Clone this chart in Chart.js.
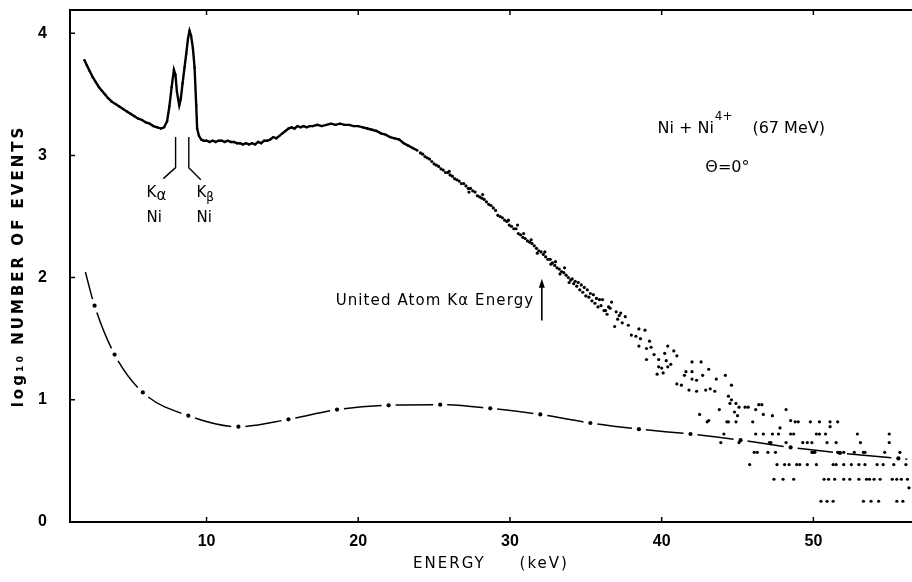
<!DOCTYPE html>
<html><head><meta charset="utf-8">
<script src="https://cdn.jsdelivr.net/npm/chart.js@4.4.1/dist/chart.umd.min.js"></script>
<style>html,body{margin:0;padding:0;background:#fff;}#wrap{width:912px;height:582px;}</style>
</head><body><div id="wrap"><canvas id="c" width="912" height="582"></canvas></div>
<script>
// ---- tick labels ----
const xTicks = [10, 20, 30, 40, 50];
const yTicks = [0, 1, 2, 3, 4];

// ---- measured spectrum, dense part (keV, log10 counts) ----
const denseE = [1.95,2.1,2.3,2.5,2.7,2.9,3.1,3.3,3.5,3.75,
  4.0,4.25,4.5,4.75,5.0,5.25,5.5,5.75,6.0,6.25,
  6.5,6.75,7.0,7.2,7.4,7.55,7.7,7.85,7.95,8.05,
  8.2,8.3,8.42,8.55,8.66,8.78,8.88,8.98,9.1,9.21,
  9.32,9.38,9.5,9.65,9.8,10.0,10.2,10.4,10.6,10.8,
  11.0,11.2,11.4,11.6,11.8,12.0,12.2,12.4,12.6,12.8,
  13.0,13.2,13.4,13.6,13.8,14.0,14.2,14.4,14.6,14.8,
  15.0,15.2,15.4,15.6,15.8,16.0,16.2,16.4,16.6,16.8,
  17.0,17.3,17.6,17.9,18.2,18.5,18.8,19.1,19.4,19.7,
  20.0,20.3,20.6,20.9,21.2,21.5,21.8,22.1,22.4,22.7,
  23.0,23.3,23.6,23.9];
const denseY = [3.78,3.74,3.69,3.64,3.60,3.56,3.53,3.50,3.47,3.44,
  3.42,3.40,3.38,3.36,3.34,3.32,3.30,3.29,3.27,3.26,
  3.24,3.23,3.22,3.23,3.28,3.40,3.56,3.70,3.66,3.52,
  3.41,3.46,3.59,3.72,3.83,3.96,4.02,3.98,3.88,3.72,
  3.41,3.22,3.16,3.13,3.12,3.12,3.11,3.12,3.11,3.12,
  3.12,3.11,3.12,3.11,3.11,3.10,3.10,3.09,3.10,3.09,
  3.10,3.09,3.11,3.10,3.12,3.12,3.13,3.15,3.14,3.16,
  3.18,3.20,3.22,3.23,3.22,3.24,3.23,3.24,3.23,3.24,
  3.24,3.25,3.24,3.25,3.26,3.25,3.26,3.25,3.25,3.24,
  3.24,3.23,3.22,3.21,3.20,3.18,3.17,3.15,3.14,3.13,
  3.10,3.08,3.06,3.04];

// ---- measured spectrum, scattered tail ----
const tailE = [24.1,24.25,24.4,24.55,24.7,24.85,25.0,25.15,25.3,25.45,
  25.6,25.75,25.9,26.05,26.2,26.35,26.5,26.65,26.8,26.95,
  27.1,27.25,27.4,27.55,27.7,27.85,28.0,28.15,28.3,28.45,
  28.6,28.75,28.9,29.05,26.0,27.3,28.2,29.2,
  29.35,29.5,29.65,29.8,29.95,30.1,30.25,30.4,30.55,30.7,
  30.85,31.0,31.15,31.3,31.45,31.6,31.75,31.9,32.05,32.2,
  32.35,32.5,32.65,32.8,32.95,33.1,33.25,33.4,33.55,33.7,
  33.85,34.0,29.9,30.5,30.9,31.4,31.8,32.3,32.7,33.0,
  33.3,33.6,33.9,
  34.1,34.2,34.3,34.4,34.5,34.6,34.7,34.8,34.9,35.0,
  35.1,35.2,35.3,35.4,35.5,35.6,35.7,35.8,35.9,36.0,
  36.1,36.2,36.3,36.4,36.5,36.6,36.7,36.9,37.0,37.1,
  37.3,37.4,37.6,37.8,38.0,38.3,38.5,38.6,38.9,37.2,
  38.5,39.2,39.3,39.0,40.4,39.5,40.2,40.8,41.0,39.0,
  39.8,40.3,40.6,39.8,40.0,40.4,42.0,42.6,41.6,42.0,
  43.1,39.7,40.1,41.5,42.0,42.3,42.7,41.0,41.3,41.8,
  42.3,42.9,43.2,43.5,43.6,44.2,44.6,44.4,44.6,44.9,
  42.5,43.1,43.8,44.5,44.8,45.1,45.5,45.7,46.2,46.4,
  46.6,46.7,47.3,48.2,48.5,51.1,51.1,45.0,46.0,47.8,
  43.0,44.3,44.4,44.9,48.8,49.0,49.8,50.4,51.6,
  44.1,46.2,46.7,47.3,47.7,48.5,48.7,50.2,50.4,50.8,52.9,55.0,
  43.9,45.1,47.1,47.2,48.2,49.3,49.6,49.9,50.9,51.5,53.1,55.0,
  46.1,46.3,47.0,47.5,49.9,50.0,50.1,51.6,52.0,52.7,53.3,53.4,54.7,55.7,
  45.8,47.6,48.1,48.4,48.9,49.1,49.6,50.2,51.3,51.5,52.0,52.5,53.0,53.4,54.2,54.6,55.3,56.1,
  47.4,48.0,48.7,50.7,51.0,51.4,52.0,52.4,53.0,53.5,53.7,54.0,54.4,55.2,55.5,55.8,56.2,
  50.5,50.9,51.3,53.3,53.8,54.3,55.5,55.9,
  56.3];
const tailY = [3.02,3.01,2.99,2.98,2.97,2.95,2.93,2.92,2.91,2.89,
  2.88,2.86,2.86,2.84,2.83,2.81,2.80,2.79,2.77,2.77,
  2.75,2.73,2.73,2.71,2.70,2.67,2.66,2.65,2.64,2.62,
  2.60,2.59,2.57,2.55,2.87,2.70,2.68,2.51,
  2.50,2.49,2.47,2.46,2.43,2.42,2.40,2.40,2.36,2.35,
  2.33,2.32,2.30,2.29,2.28,2.26,2.24,2.22,2.21,2.19,
  2.17,2.15,2.15,2.12,2.10,2.08,2.07,2.05,2.04,2.02,
  2.00,1.98,2.47,2.43,2.36,2.31,2.20,2.21,2.11,2.13,
  2.03,2.08,1.96,
  1.99,1.95,1.97,1.93,1.96,1.90,1.94,1.88,1.92,1.85,
  1.90,1.84,1.87,1.81,1.86,1.79,1.83,1.76,1.82,1.77,
  1.82,1.73,1.73,1.70,1.76,1.75,1.80,1.60,1.72,1.66,
  1.71,1.63,1.68,1.61,1.53,1.52,1.58,1.50,1.57,1.69,
  1.44,1.48,1.43,1.42,1.44,1.37,1.38,1.40,1.36,1.33,
  1.33,1.32,1.29,1.27,1.26,1.27,1.31,1.31,1.23,1.23,
  1.25,1.21,1.22,1.20,1.17,1.16,1.20,1.13,1.12,1.08,
  1.07,1.08,1.09,1.07,1.17,1.20,1.12,1.03,1.00,0.97,
  0.88,0.83,0.92,0.97,0.90,0.94,0.94,0.94,0.92,0.96,
  0.96,0.88,0.87,0.92,0.83,0.82,0.78,0.87,0.82,0.77,
  0.82,0.82,0.82,0.82,0.82,0.82,0.82,0.82,0.82,
  0.72,0.72,0.72,0.72,0.72,0.72,0.72,0.72,0.72,0.72,0.72,0.72,
  0.65,0.65,0.65,0.65,0.65,0.65,0.65,0.65,0.65,0.65,0.65,0.65,
  0.57,0.57,0.57,0.57,0.57,0.57,0.57,0.57,0.57,0.57,0.57,0.57,0.57,0.57,
  0.47,0.47,0.47,0.47,0.47,0.47,0.47,0.47,0.47,0.47,0.47,0.47,0.47,0.47,0.47,0.47,0.47,0.47,
  0.35,0.35,0.35,0.35,0.35,0.35,0.35,0.35,0.35,0.35,0.35,0.35,0.35,0.35,0.35,0.35,0.35,
  0.17,0.17,0.17,0.17,0.17,0.17,0.17,0.17,
  0.28];

// ---- lower dash-dot curve ----
const fitE = [1.9,2.62,3.94,5.8,8.8,12.1,15.4,18.6,22.0,25.4,28.7,32.0,35.3,38.5,41.9,45.2,48.5,51.75,55.6,56.5];
const fitY = [2.10,1.77,1.37,1.06,0.87,0.78,0.84,0.92,0.955,0.96,0.93,0.88,0.81,0.76,0.72,0.67,0.61,0.565,0.52,0.51];

const pts = (xs, ys) => xs.map((v, i) => ({x: v, y: ys[i]}));

function spacedTitle(spacing) {
  return function (scale) {
    if (!scale._lsWrapped) {
      const orig = scale.drawTitle;
      scale.drawTitle = function () {
        const c = this.ctx; c.save(); c.letterSpacing = spacing; orig.call(this); c.restore();
      };
      scale._lsWrapped = true;
    }
  };
}

const framePlugin = {
  id: 'frame',
  afterDraw(chart) {
    const {ctx, chartArea: a, scales: {x, y}} = chart;
    ctx.save();
    ctx.strokeStyle = '#000';
    ctx.lineWidth = 2;
    ctx.beginPath(); ctx.moveTo(a.left - 1, a.top); ctx.lineTo(a.right, a.top); ctx.stroke();
    ctx.lineWidth = 1.5;
    ctx.beginPath();
    x.ticks.forEach(t => {
      const px = x.getPixelForValue(t.value);
      ctx.moveTo(px, a.bottom); ctx.lineTo(px, a.bottom - 5);
      ctx.moveTo(px, a.top); ctx.lineTo(px, a.top + 5);
    });
    y.ticks.forEach(t => {
      const py = y.getPixelForValue(t.value);
      ctx.moveTo(a.left, py); ctx.lineTo(a.left + 5, py);
    });
    ctx.stroke();
    ctx.restore();
  }
};

const annotPlugin = {
  id: 'annot',
  afterDatasetsDraw(chart) {
    const {ctx, scales: {x, y}} = chart;
    const X = v => x.getPixelForValue(v), Y = v => y.getPixelForValue(v);
    ctx.save();
    ctx.strokeStyle = '#000'; ctx.fillStyle = '#000'; ctx.lineWidth = 1.4;
    // K alpha / K beta pointers
    ctx.beginPath();
    ctx.moveTo(X(7.96), Y(3.15)); ctx.lineTo(X(7.96), Y(2.90)); ctx.lineTo(X(7.15), Y(2.81));
    ctx.moveTo(X(8.83), Y(3.15)); ctx.lineTo(X(8.83), Y(2.90)); ctx.lineTo(X(9.62), Y(2.80));
    ctx.stroke();
    ctx.textBaseline = 'middle'; ctx.textAlign = 'left';
    const f = '15px "DejaVu Sans"';
    ctx.font = f;
    let kx = X(6.05), ky = Y(2.69);
    ctx.fillText('K', kx, ky);
    const kw = ctx.measureText('K').width;
    ctx.fillText('\u03B1', kx + kw, ky + 3);
    ctx.fillText('Ni', kx, Y(2.49));
    kx = X(9.34); ky = Y(2.69);
    ctx.fillText('K', kx, ky);
    ctx.font = '12px "DejaVu Sans"';
    ctx.fillText('\u03B2', kx + kw, ky + 5);
    ctx.font = f;
    ctx.fillText('Ni', kx, Y(2.49));
    // reaction label
    ctx.font = '16px "DejaVu Sans"';
    ctx.fillText('Ni + Ni', X(39.72), Y(3.22));
    ctx.font = '12px "DejaVu Sans"';
    ctx.fillText('4+', X(43.5), Y(3.315));
    ctx.font = '16px "DejaVu Sans"';
    ctx.fillText('(67 MeV)', X(45.98), Y(3.22));
    ctx.fillText('\u0398=0\u00B0', X(42.88), Y(2.90));
    // united atom arrow
    ctx.textAlign = 'right';
    ctx.font = '15px "DejaVu Sans"';
    ctx.letterSpacing = '1.1px';
    ctx.fillText('United Atom K\u03B1 Energy', X(31.6), Y(1.81));
    ctx.letterSpacing = '0px';
    const ax = X(32.1), at = Y(1.99), ab = Y(1.65);
    ctx.lineWidth = 1.6;
    ctx.beginPath(); ctx.moveTo(ax, ab); ctx.lineTo(ax, at + 6); ctx.stroke();
    ctx.beginPath(); ctx.moveTo(ax, at); ctx.lineTo(ax - 3, at + 9); ctx.lineTo(ax + 3, at + 9); ctx.closePath(); ctx.fill();
    ctx.restore();
  }
};

new Chart(document.getElementById('c'), {
  type: 'scatter',
  data: {
    datasets: [
      {
        label: 'spectrum',
        data: pts(denseE, denseY),
        showLine: true,
        borderColor: '#000',
        borderWidth: 2.4,
        pointRadius: 1.2,
        pointBackgroundColor: '#000',
        pointBorderWidth: 0,
        tension: 0
      },
      {
        label: 'spectrum tail',
        data: pts(tailE, tailY),
        showLine: false,
        pointRadius: 1.6,
        pointBackgroundColor: '#000',
        pointBorderWidth: 0
      },
      {
        label: 'calculation',
        data: pts(fitE, fitY),
        showLine: true,
        borderColor: '#000',
        borderWidth: 1.5,
        cubicInterpolationMode: 'monotone',
        pointRadius: c => (c.dataIndex === 0 || c.dataIndex === fitE.length - 1) ? 0 : 2.1,
        pointBackgroundColor: '#000',
        pointBorderWidth: 0,
        segment: {
          borderDash: c => {
            const d = Math.hypot(c.p1.x - c.p0.x, c.p1.y - c.p0.y);
            return [Math.max(d - 14, 2), 400 + c.p0DataIndex * 0.001];
          },
          borderDashOffset: -7
        }
      }
    ]
  },
  options: {
    responsive: false,
    animation: false,
    devicePixelRatio: 1,
    layout: {autoPadding: false, padding: {top: 10, right: 0, left: 0, bottom: 0}},
    plugins: {legend: {display: false}, tooltip: {enabled: false}},
    scales: {
      x: {
        type: 'linear', position: 'bottom', min: 1, max: 56.5,
        grid: {display: false, drawTicks: false},
        border: {display: true, color: '#000', width: 2},
        afterBuildTicks: s => { s.ticks = xTicks.map(v => ({value: v})); },
        afterFit: s => { s.height = 60; s.paddingLeft = 0; s.paddingRight = 0; spacedTitle('2px')(s); },
        ticks: {color: '#000', padding: 10, maxRotation: 0, autoSkip: false,
          font: {family: '"Liberation Sans"', weight: 'bold', size: 16}},
        title: {display: true, text: 'ENERGY     (keV)', color: '#000',
          font: {family: '"DejaVu Sans"', size: 15}, padding: {top: 0, bottom: 9}}
      },
      y: {
        type: 'linear', position: 'left', min: 0, max: 4.19,
        grid: {display: false, drawTicks: false},
        border: {display: true, color: '#000', width: 2},
        afterBuildTicks: s => { s.ticks = yTicks.map(v => ({value: v})); },
        afterFit: s => { s.width = 70; s.paddingTop = 0; s.paddingBottom = 0; spacedTitle('3px')(s); },
        ticks: {color: '#000', padding: 23, autoSkip: false,
          font: {family: '"Liberation Sans"', weight: 'bold', size: 16}},
        title: {display: true, text: 'log\u2081\u2080 NUMBER OF EVENTS', color: '#000',
          font: {family: '"DejaVu Sans"', weight: 'bold', size: 15}, padding: {top: 10, bottom: 0}}
      }
    }
  },
  plugins: [framePlugin, annotPlugin]
});
</script>
</body></html>
